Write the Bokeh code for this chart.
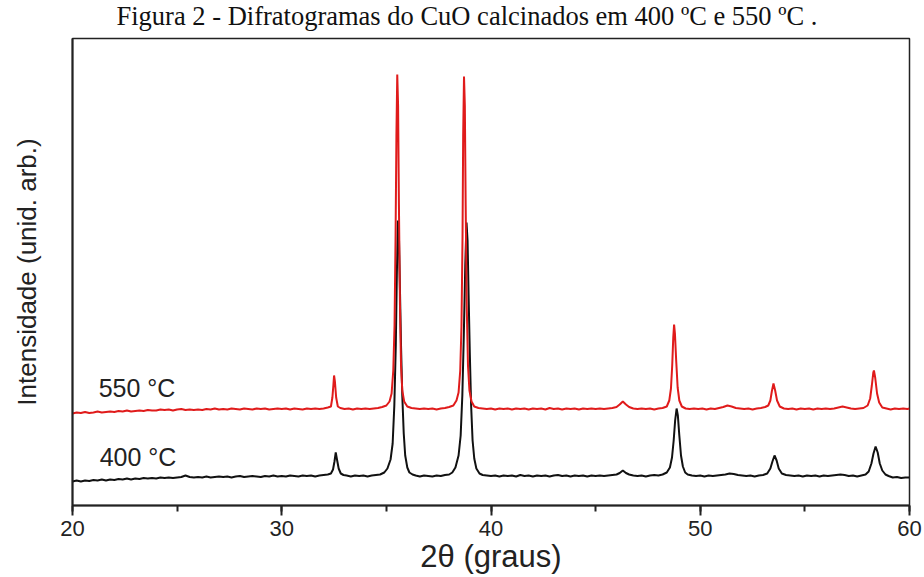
from bokeh.plotting import figure
from bokeh.models import Range1d, SingleIntervalTicker, FixedTicker, ColumnDataSource, Title
from bokeh.core.properties import value
from bokeh.embed import file_html
from bokeh.resources import INLINE

# ---- data (2theta in degrees, intensity in arbitrary units, offset curves) ----
x_400 = [20.0, 20.2, 20.4, 20.6, 20.8, 21.0, 21.2, 21.4, 21.6, 21.8,
         22.0, 22.2, 22.4, 22.6, 22.8, 23.0, 23.2, 23.4, 23.6, 23.8,
         24.0, 24.2, 24.4, 24.6, 24.8, 25.0, 25.2, 25.4, 25.6, 25.8,
         26.0, 26.2, 26.4, 26.6, 26.8, 27.0, 27.2, 27.4, 27.6, 27.8,
         28.0, 28.2, 28.4, 28.6, 28.8, 29.0, 29.2, 29.4, 29.6, 29.8,
         30.0, 30.2, 30.4, 30.6, 30.8, 31.0, 31.2, 31.4, 31.6, 31.8,
         32.0, 32.2, 32.35, 32.45, 32.52, 32.58, 32.64, 32.72, 32.82, 32.95,
         33.1, 33.3, 33.5, 33.7, 33.9, 34.1, 34.3, 34.5, 34.7, 34.9,
         35.05, 35.2, 35.3, 35.38, 35.45, 35.5, 35.55, 35.6, 35.65, 35.7,
         35.76, 35.83, 35.9, 36.0, 36.1, 36.25, 36.4, 36.6, 36.8, 37.0,
         37.2, 37.4, 37.6, 37.8, 38.0, 38.15, 38.3, 38.45, 38.55, 38.63,
         38.7, 38.77, 38.83, 38.88, 38.93, 38.99, 39.05, 39.12, 39.2, 39.3,
         39.45, 39.6, 39.8, 40.0, 40.2, 40.4, 40.6, 40.8, 41.0, 41.2,
         41.4, 41.6, 41.8, 42.0, 42.2, 42.4, 42.6, 42.8, 43.0, 43.2,
         43.4, 43.6, 43.8, 44.0, 44.2, 44.4, 44.6, 44.8, 45.0, 45.2,
         45.4, 45.6, 45.8, 46.0, 46.15, 46.3, 46.45, 46.6, 46.8, 47.0,
         47.2, 47.4, 47.6, 47.8, 48.0, 48.2, 48.4, 48.55, 48.65, 48.73,
         48.8, 48.87, 48.93, 49.0, 49.08, 49.17, 49.28, 49.4, 49.6, 49.8,
         50.0, 50.2, 50.4, 50.6, 50.8, 51.0, 51.2, 51.4, 51.6, 51.8,
         52.0, 52.2, 52.4, 52.6, 52.8, 53.0, 53.2, 53.35, 53.45, 53.55,
         53.65, 53.75, 53.9, 54.1, 54.3, 54.5, 54.7, 54.9, 55.1, 55.3,
         55.5, 55.7, 55.9, 56.1, 56.3, 56.5, 56.7, 56.9, 57.1, 57.3,
         57.5, 57.7, 57.9, 58.05, 58.18, 58.28, 58.38, 58.48, 58.58, 58.7,
         58.85, 59.0, 59.2, 59.4, 59.6, 59.8, 60.0]

i_400 = [24, 25, 24, 25, 24.5, 25.5, 25, 26, 25, 26,
         25.5, 26.5, 26, 27, 26, 27, 26.5, 27.5, 27, 27.5,
         27, 28, 27.5, 28, 27.5, 28, 28.5, 30, 28.5, 28,
         28.5, 28, 29, 28, 28.5, 29, 28.5, 29, 28, 29,
         29.5, 28.5, 29, 29.5, 29, 28.5, 29.5, 29, 30, 29,
         29.5, 29, 30, 29.5, 29, 30, 29.5, 30, 29, 30,
         30.5, 31, 32, 36, 44, 53, 46, 37, 32, 30.5,
         30, 29, 30, 29.5, 30, 29, 30, 30.5, 31, 33,
         37, 46, 62, 100, 160, 230, 285, 270, 215, 160,
         110, 72, 50, 38, 33, 31, 30, 29, 30, 29.5,
         29, 30, 29.5, 30.5, 31, 33, 38, 50, 70, 110,
         170, 240, 283, 265, 210, 150, 100, 65, 47, 37,
         32, 30.5, 30, 29.5, 30, 29, 30, 29.5, 30, 29,
         30.5, 29.5, 30, 29, 30, 29.5, 30, 29, 30, 30.5,
         29.5, 30, 29, 30, 29.5, 30, 29, 30, 29.5, 30,
         29.5, 30, 30.5, 31, 32.5, 35, 32.5, 31, 30, 29.5,
         30, 29, 30, 30.5, 30, 31, 33, 38, 48, 65,
         85, 97, 90, 70, 50, 39, 33, 31, 30, 29.5,
         30, 29, 30, 29.5, 30, 30.5, 31, 32, 31.5, 30.5,
         30, 29.5, 30, 29, 30, 30.5, 32, 37, 44, 50,
         45, 37, 32, 30.5, 30, 29.5, 30, 29, 30, 29.5,
         30, 29, 30, 29.5, 30, 30.5, 31, 30.5, 29.5, 30,
         29, 30, 31, 34, 42, 52, 59, 53, 42, 35,
         31, 29.5, 28, 28.5, 27.5, 28, 28]

x_550 = [20.0, 20.2, 20.4, 20.6, 20.8, 21.0, 21.2, 21.4, 21.6, 21.8,
         22.0, 22.2, 22.4, 22.6, 22.8, 23.0, 23.2, 23.4, 23.6, 23.8,
         24.0, 24.2, 24.4, 24.6, 24.8, 25.0, 25.2, 25.4, 25.6, 25.8,
         26.0, 26.2, 26.4, 26.6, 26.8, 27.0, 27.2, 27.4, 27.6, 27.8,
         28.0, 28.2, 28.4, 28.6, 28.8, 29.0, 29.2, 29.4, 29.6, 29.8,
         30.0, 30.2, 30.4, 30.6, 30.8, 31.0, 31.2, 31.4, 31.6, 31.8,
         32.0, 32.2, 32.35, 32.42, 32.47, 32.5, 32.54, 32.6, 32.68, 32.8,
         33.0, 33.2, 33.4, 33.6, 33.8, 34.0, 34.2, 34.4, 34.6, 34.8,
         35.0, 35.15, 35.25, 35.33, 35.39, 35.44, 35.48, 35.52, 35.56, 35.6,
         35.65, 35.7, 35.76, 35.85, 36.0, 36.2, 36.4, 36.6, 36.8, 37.0,
         37.2, 37.4, 37.6, 37.8, 38.0, 38.2, 38.35, 38.45, 38.53, 38.59,
         38.64, 38.67, 38.71, 38.75, 38.79, 38.84, 38.9, 38.97, 39.07, 39.2,
         39.4, 39.6, 39.8, 40.0, 40.2, 40.4, 40.6, 40.8, 41.0, 41.2,
         41.4, 41.6, 41.8, 42.0, 42.2, 42.4, 42.6, 42.8, 43.0, 43.2,
         43.4, 43.6, 43.8, 44.0, 44.2, 44.4, 44.6, 44.8, 45.0, 45.2,
         45.4, 45.6, 45.8, 46.0, 46.15, 46.3, 46.45, 46.6, 46.8, 47.0,
         47.2, 47.4, 47.6, 47.8, 48.0, 48.2, 48.4, 48.52, 48.6, 48.66,
         48.71, 48.75, 48.79, 48.85, 48.92, 49.0, 49.12, 49.3, 49.5, 49.7,
         49.9, 50.1, 50.3, 50.5, 50.7, 50.9, 51.1, 51.3, 51.5, 51.7,
         51.9, 52.1, 52.3, 52.5, 52.7, 52.9, 53.1, 53.25, 53.35, 53.42,
         53.5, 53.58, 53.67, 53.8, 54.0, 54.2, 54.4, 54.6, 54.8, 55.0,
         55.2, 55.4, 55.6, 55.8, 56.0, 56.2, 56.4, 56.6, 56.8, 57.0,
         57.2, 57.4, 57.6, 57.8, 58.0, 58.12, 58.2, 58.27, 58.3, 58.36,
         58.45, 58.55, 58.7, 58.9, 59.1, 59.3, 59.5, 59.7, 59.9, 60.0]

i_550 = [92, 93, 92.5, 93.5, 92.5, 93, 94, 93, 93.5, 94,
         93.5, 94.5, 94, 95, 94, 94.5, 95, 94.5, 95.5, 95,
         95, 96, 95.5, 96, 95, 96, 96.5, 95.5, 96, 95.5,
         96, 95.5, 96.5, 96, 97, 96, 96.5, 96, 97, 96.5,
         96, 97, 96.5, 96, 97, 96.5, 97, 96, 96.5, 97,
         96.5, 97, 96, 97, 96.5, 96, 97, 96.5, 97, 96.5,
         97, 98, 99, 108, 121, 130, 124, 108, 99, 97.5,
         96.5, 97, 96, 97, 96.5, 97, 96.5, 97, 97.5, 98.5,
         100, 104, 112, 135, 180, 270, 370, 431, 400, 300,
         200, 140, 115, 104, 99, 97.5, 97, 96.5, 97, 96.5,
         97, 96, 97, 97.5, 98.5, 100, 105, 113, 135, 180,
         270, 370, 429, 400, 300, 200, 140, 115, 104, 99,
         97.5, 97, 96.5, 97, 96, 97, 96.5, 97, 96, 97,
         96.5, 97, 96, 97, 96.5, 97, 96, 97.5, 96.5, 97,
         96, 97, 96.5, 97, 96, 97, 96.5, 97, 96.5, 97,
         96.5, 97, 97.5, 98.5, 101, 104, 101, 98.5, 97, 96.5,
         97, 96.5, 97, 96, 97, 97.5, 99, 105, 117, 140,
         168, 181, 172, 145, 118, 105, 99, 97, 96.5, 97,
         96.5, 97, 96, 97, 96.5, 97.5, 98.5, 100, 99, 97.5,
         97, 96.5, 97, 96, 97, 97.5, 98.5, 100, 105, 114,
         122, 115, 105, 99, 97, 96.5, 97, 96, 97, 96.5,
         97, 96, 97, 96.5, 97, 96.5, 97, 98, 99, 98,
         97, 96.5, 97, 97.5, 100, 107, 120, 133, 135, 128,
         112, 103, 98, 97, 96, 97, 96.5, 97, 96.5, 97]

series_labels = ["400 °C", "550 °C"]
title_text = "Figura 2 - Difratogramas do CuO calcinados em 400 ºC e 550 ºC ."
x_title = "2θ (graus)"
y_title = "Intensidade (unid. arb.)"
x_ticks_interval = 10

assert len(x_400) == len(i_400)
assert len(x_550) == len(i_550)

# ---- figure ----
p = figure(width=924, height=577,
           x_range=Range1d(20, 60), y_range=Range1d(0, 467),
           output_backend="svg", toolbar_location=None,
           min_border_left=72, min_border_right=15,
           min_border_top=38, min_border_bottom=72)

p.title.text = title_text
p.title.text_font = "Liberation Serif"
p.title.text_font_size = "26.5px"
p.title.text_font_style = "normal"
p.title.text_color = "#111111"
p.title.text_line_height = 0.75
p.title.align = "left"
p.title.vertical_align = "top"
p.title.offset = 44
p.title.standoff = 0

# thin blank spacer panel between title and frame, lifting the title upward
p.add_layout(Title(text=" ", text_font_size="1px", standoff=3), "above")

p.xgrid.visible = False
p.ygrid.visible = False
p.outline_line_color = "#222222"
p.outline_line_width = 1.5
p.background_fill_color = "white"
p.border_fill_color = "white"

xa = p.xaxis[0]
xa.ticker = SingleIntervalTicker(interval=x_ticks_interval, num_minor_ticks=2)
xa.axis_line_width = 2
xa.axis_line_color = "#222222"
xa.major_tick_line_width = 2
xa.minor_tick_line_width = 2
xa.major_tick_line_color = "#222222"
xa.minor_tick_line_color = "#222222"
xa.major_tick_in = 0
xa.major_tick_out = 10
xa.minor_tick_in = 0
xa.minor_tick_out = 6
xa.major_label_text_font = "Liberation Sans"
xa.major_label_text_font_size = "22px"
xa.major_label_text_color = "#222222"
xa.major_label_standoff = 5
xa.axis_label = x_title
xa.axis_label_text_font = "Liberation Sans"
xa.axis_label_text_font_size = "31px"
xa.axis_label_text_font_style = "normal"
xa.axis_label_text_color = "#222222"
xa.axis_label_standoff = 0

ya = p.yaxis[0]
ya.ticker = FixedTicker(ticks=[])
ya.axis_line_width = 2
ya.axis_line_color = "#222222"
ya.major_tick_out = 0
ya.major_tick_in = 0
ya.minor_tick_out = 0
ya.minor_tick_in = 0
ya.major_label_standoff = 0
ya.axis_label = y_title
ya.axis_label_text_font = "Liberation Sans"
ya.axis_label_text_font_size = "26px"
ya.axis_label_text_font_style = "normal"
ya.axis_label_text_color = "#222222"
ya.axis_label_standoff = 31

p.line(x_400, i_400, line_color="#111111", line_width=2)
p.line(x_550, i_550, line_color="#e01b1b", line_width=2)

lab_src = ColumnDataSource(dict(x=[21.3, 21.25], y=[49, 118], t=series_labels))
p.text(x="x", y="y", text="t", source=lab_src,
       text_font=value("Liberation Sans"), text_font_size="25px",
       text_color="#222222", text_baseline="middle", text_align="left")

open("out.html", "w").write(file_html(p, INLINE))
